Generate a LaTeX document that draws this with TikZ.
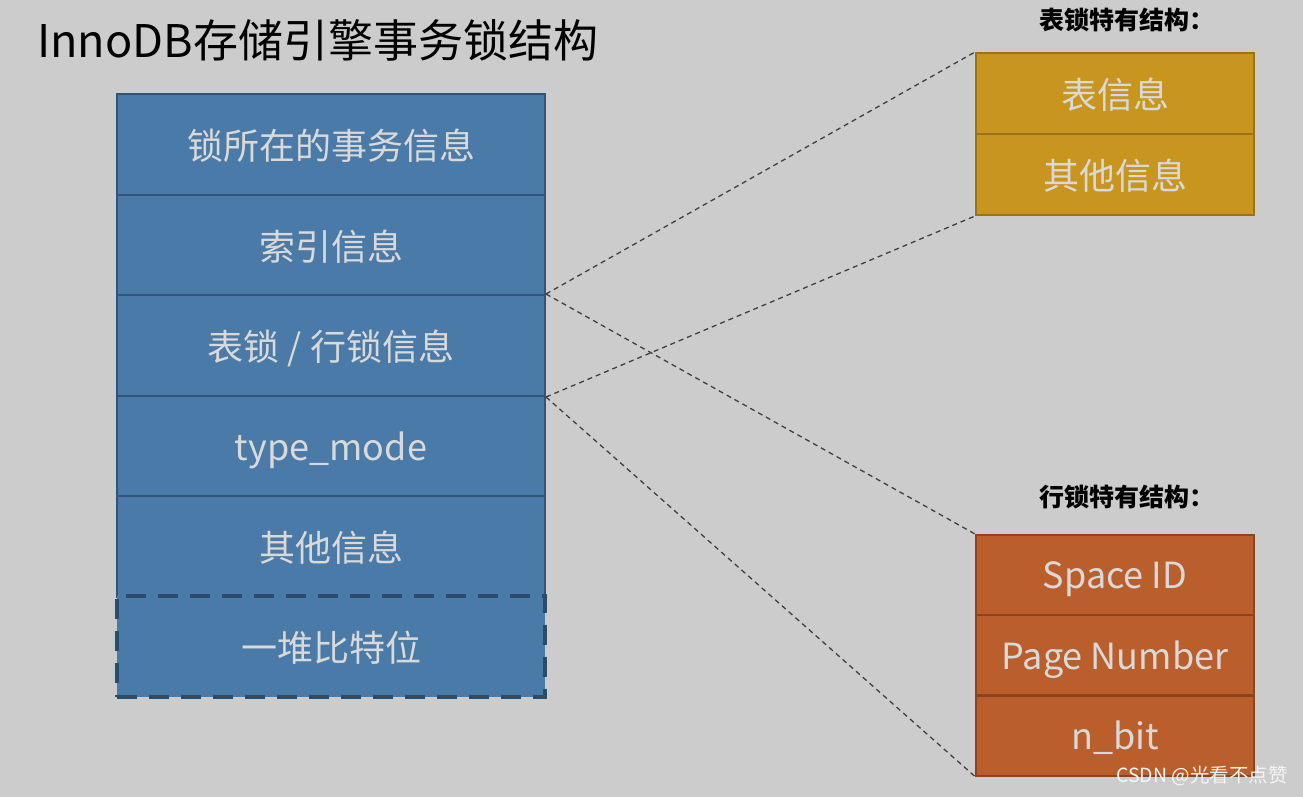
\documentclass[tikz,border=0pt]{standalone}
\usepackage{fontspec}
\setmainfont{Noto Sans CJK SC}
\newfontfamily\cjk{Noto Sans CJK SC}
\definecolor{bg}{HTML}{CCCCCC}
\definecolor{bluefill}{HTML}{4A7AA7}
\definecolor{blueline}{HTML}{2F5577}
\definecolor{yelfill}{HTML}{C8961F}
\definecolor{yelline}{HTML}{9A7318}
\definecolor{orfill}{HTML}{BA5F2C}
\definecolor{orline}{HTML}{8A4420}
\definecolor{boxtext}{HTML}{D9D9D9}
\tikzset{
  cell/.style={draw, line width=2pt, minimum height=#1, inner sep=0pt, text=boxtext, font=\cjk\fontsize{36}{40}\selectfont, text depth=0pt},
  bluecell/.style={cell=101pt, minimum width=428pt, fill=bluefill, draw=blueline},
  yelcell/.style={cell=81pt, minimum width=278pt, fill=yelfill, draw=yelline},
  orcell/.style={cell=80pt, minimum width=278pt, fill=orfill, draw=orline},
  link/.style={line width=1.3pt, draw=black!75, dash pattern=on 5pt off 4pt},
  lbl/.style={font=\cjk\bfseries\fontsize{25}{28}\selectfont},
}
\begin{document}
\begin{tikzpicture}[x=1pt,y=-1pt]
\fill[bg] (0,0) rectangle (1303,797);
\useasboundingbox (0,0) rectangle (1303,797);
\node[anchor=west, font=\cjk\fontsize{45}{50}\selectfont, inner sep=0pt] (title) at (37,40) {InnoDB存储引擎事务锁结构};
% main struct
\node[bluecell] (r1) at (331,144.5) {锁所在的事务信息};
\node[bluecell] (r2) at (331,245) {索引信息};
\node[bluecell] (r3) at (331,345.5) {表锁 / 行锁信息};
\node[bluecell] (r4) at (331,446) {type\_mode};
\node[bluecell] (r5) at (331,546) {其他信息};
\node[bluecell, draw=blueline!90!black, line width=4pt, dash pattern=on 20pt off 12pt] (r6) at (331,646.5) {一堆比特位};
% table lock
\node[lbl] (tt) at (1127,20) {表锁特有结构：};
\node[yelcell] (t1) at (1115,93.5) {表信息};
\node[yelcell] (t2) at (1115,174.5) {其他信息};
% row lock
\node[lbl] (rt) at (1127,497) {行锁特有结构：};
\node[orcell] (o1) at (1115,575) {Space ID};
\node[orcell] (o2) at (1115,655) {Page Number};
\node[orcell] (o3) at (1115,735.5) {n\_bit};
% connectors
\draw[link] (r3.north east) -- (t1.north west);
\draw[link] (r3.south east) -- (t2.south west);
\draw[link] (r3.north east) -- (o1.north west);
\draw[link] (r3.south east) -- (o3.south west);
% watermark
\node[anchor=east, text=white!92!gray, font=\cjk\fontsize{19.5}{22}\selectfont, inner sep=0pt] (wm) at (1288,776) {CSDN @光看不点赞};
\end{tikzpicture}
\end{document}
